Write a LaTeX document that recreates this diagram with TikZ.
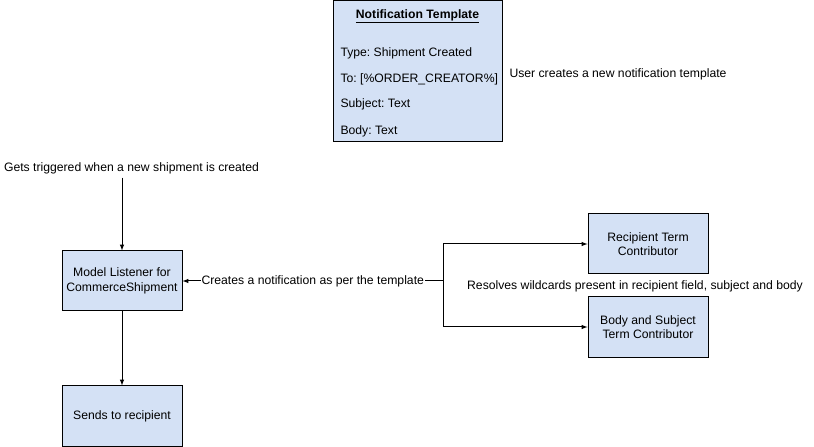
\documentclass[tikz,border=0pt]{standalone}
\usepackage{fontspec}
\setmainfont{Liberation Sans}
\usetikzlibrary{arrows}
\definecolor{boxblue}{HTML}{D4E1F5}
\frenchspacing

\begin{document}
\begin{tikzpicture}[x=1bp, y=-1bp, line width=1bp,
	font=\fontsize{12.2bp}{14.5bp}\selectfont,
	box/.style={draw, fill=boxblue, minimum width=120bp, minimum height=60bp, align=center, inner sep=0pt}]
	\useasboundingbox (0,0) rectangle (814,447);
	\def\lead{122}

	\node[box, minimum width=169bp, minimum height=141bp] (tmpl) at (417.5,71) {};
	\node (title) at (417.5,16) {\underline{\textbf{Notification Template}}};
	\node[anchor=west, inner sep=0pt] (type) at (340,53.5) {Type: Shipment Created};
	\node[anchor=west, inner sep=0pt] (to) at (340,79.5) {To: [\%ORDER\_CREATOR\%]};
	\node[anchor=west, inner sep=0pt] (subj) at (340,104.5) {Subject: Text};
	\node[anchor=west, inner sep=0pt] (body) at (340,131.5) {Body: Text};
	\node[anchor=west, inner sep=0pt] (user) at (509,74) {User creates a new notification template};

	\node (trig) at (131.5,168) {Gets triggered when a new shipment is created};
	\node[box] (ml) at (\lead,281) {Model Listener for\\CommerceShipment};
	\node[box] (send) at (\lead,416) {Sends to recipient};

	\node[box] (rec) at (648,244) {Recipient Term\\Contributor};
	\node[box] (bsc) at (648,327) {Body and Subject\\Term Contributor};
	\node (resolve) at (635,286.5) {Resolves wildcards present in recipient field, subject and body};

	\coordinate (split) at (443,281);

	\draw [-latex] (ml.north |- trig.south) -- (ml.north);
	\draw [-latex] (ml) -- (send);
	\draw [-latex] (split) -- node[fill=white, inner sep=1bp] (create) {Creates a notification as per the template} (ml.east);
	\draw [-latex] (split) |- (rec.west);
	\draw [-latex] (split) |- (bsc.west);
\end{tikzpicture}
\end{document}
